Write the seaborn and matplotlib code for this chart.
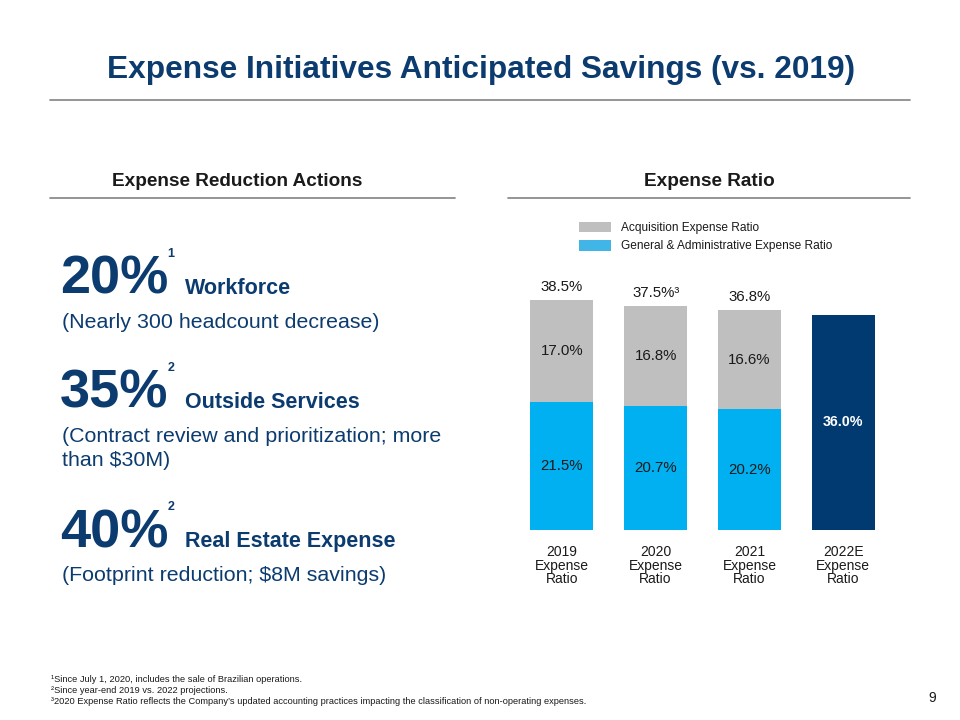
import pandas as pd
import matplotlib.pyplot as plt
import seaborn as sns
from matplotlib.lines import Line2D
from matplotlib.patches import Patch

# data
categories = ['2019\nExpense\nRatio', '2020\nExpense\nRatio', '2021\nExpense\nRatio', '2022E\nExpense\nRatio']
acquisition = [17.0, 16.8, 16.6, None]
g_and_a = [21.5, 20.7, 20.2, None]
total = [38.5, 37.5, 36.8, 36.0]
total_labels = ['38.5%', '37.5%³', '36.8%', '36.0%']

savings_pct = ['20%', '35%', '40%']
savings_note = ['1', '2', '2']
savings_name = ['Workforce', 'Outside Services', 'Real Estate Expense']
savings_desc = ['(Nearly 300 headcount decrease)',
                '(Contract review and prioritization; more\nthan $30M)',
                '(Footprint reduction; $8M savings)']

footnotes = ['¹Since July 1, 2020, includes the sale of Brazilian operations.',
             '²Since year-end 2019 vs. 2022 projections.',
             '³2020 Expense Ratio reflects the Company\u2019s updated accounting practices impacting the classification of non-operating expenses.']

NAVY = '#0B3B6F'
DARK_NAVY = '#003A70'
GREY = '#BFBFBF'
CYAN = '#00B0F0'
LINE = '#8C8C8C'

sns.set_theme(style='white')
plt.rcParams['font.family'] = ['Liberation Sans', 'DejaVu Sans']

W, H = 960, 720
fig = plt.figure(figsize=(9.6, 7.2), dpi=100)


def fx(x):
    return x / W


def fy(y):
    return 1 - y / H


def hline(x0, x1, y, lw=1.3):
    fig.add_artist(Line2D([fx(x0), fx(x1)], [fy(y), fy(y)], color=LINE, lw=lw))


# title and section headers
fig.text(fx(481), fy(70), 'Expense Initiatives Anticipated Savings (vs. 2019)',
         ha='center', va='center', fontsize=22.8, fontweight='bold', color=NAVY)
hline(50, 910, 100)

fig.text(fx(237), fy(181), 'Expense Reduction Actions', ha='center', va='center',
         fontsize=13.7, fontweight='bold', color='#1A1A1A')
fig.text(fx(709), fy(181), 'Expense Ratio', ha='center', va='center',
         fontsize=13.7, fontweight='bold', color='#1A1A1A')
hline(50, 455, 198)
hline(508, 910, 198)

# left column: savings list
baselines = [294, 408, 547]
for i in range(3):
    b = baselines[i]
    fig.text(fx(60), fy(b), savings_pct[i], ha='left', va='baseline',
             fontsize=39, fontweight='bold', color=NAVY)
    fig.text(fx(171), fy(b - 40), savings_note[i], ha='center', va='center',
             fontsize=9, fontweight='bold', color=NAVY)
    fig.text(fx(185), fy(b), savings_name[i], ha='left', va='baseline',
             fontsize=15.5, fontweight='bold', color=NAVY)
    for k, line in enumerate(savings_desc[i].split('\n')):
        fig.text(fx(62), fy(b + 34 + 24 * k), line, ha='left', va='baseline',
                 fontsize=15.4, color=NAVY)

# right column: stacked bars
df = pd.DataFrame({'category': categories, 'total': total,
                   'g_and_a': g_and_a, 'acquisition': acquisition})

ax = fig.add_axes([fx(515), fy(530), fx(375), (530 - 291) / H])
sns.barplot(data=df, x='category', y='total', hue='category', order=categories,
            palette=[GREY, GREY, GREY, DARK_NAVY], width=0.67, saturation=1,
            linewidth=0, legend=False, ax=ax)
sns.barplot(data=df, x='category', y='g_and_a', order=categories, color=CYAN,
            width=0.67, saturation=1, linewidth=0, ax=ax)
ax.set_ylim(0, 40)
ax.set_xlim(-0.5, 3.5)
ax.set_xlabel('')
ax.set_ylabel('')
ax.set_yticks([])
ax.tick_params(axis='x', length=0, pad=11, labelsize=10, labelcolor='#1A1A1A')
for lab in ax.get_xticklabels():
    lab.set_linespacing(0.95)
for s in ax.spines.values():
    s.set_visible(False)

for i in range(len(categories)):
    if acquisition[i] is not None:
        ax.text(i, total[i] + 2.2, total_labels[i], ha='center', va='center',
                fontsize=10.8, color='#1A1A1A')
        ax.text(i, g_and_a[i] + acquisition[i] / 2, f'{acquisition[i]:.1f}%',
                ha='center', va='center', fontsize=10.8, color='#1A1A1A')
        ax.text(i, g_and_a[i] / 2, f'{g_and_a[i]:.1f}%',
                ha='center', va='center', fontsize=10.8, color='#1A1A1A')
    else:
        ax.text(i, total[i] / 2, total_labels[i], ha='center', va='center',
                fontsize=10.3, fontweight='bold', color='white')

handles = [Patch(facecolor=GREY, edgecolor='none', label='Acquisition Expense Ratio'),
           Patch(facecolor='#41B6E6', edgecolor='none', label='General & Administrative Expense Ratio')]
fig.legend(handles=handles, loc='upper left', bbox_to_anchor=(fx(579), fy(222)),
           bbox_transform=fig.transFigure, frameon=False, fontsize=8.6,
           handlelength=2.7, handleheight=0.95, handletextpad=0.85,
           labelspacing=0.5, borderpad=0, borderaxespad=0, labelcolor='#1A1A1A')

# footnotes and page number
for i, note in enumerate(footnotes):
    fig.text(fx(51), fy(680 + i * 10.5), note, ha='left', va='center',
             fontsize=6.7, color='#1A1A1A', family=['Liberation Sans Narrow', 'Liberation Sans'])
fig.text(fx(932), fy(698), '9', ha='center', va='center', fontsize=10, color='#1A1A1A')

fig.savefig('out.png', dpi=100)
